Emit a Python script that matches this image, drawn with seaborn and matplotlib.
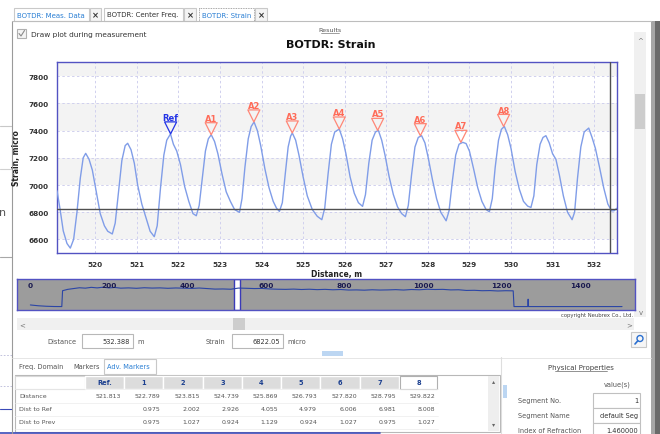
import matplotlib
matplotlib.use("Agg")
import numpy as np
import pandas as pd
import matplotlib.pyplot as plt
import seaborn as sns
from matplotlib.path import Path
from matplotlib.markers import MarkerStyle
from matplotlib.patches import Rectangle

# Strain trace (distance in m, strain in micro)
distance_m = [
    519.08, 519.15, 519.23, 519.32, 519.40, 519.48, 519.56, 519.64, 519.71, 519.77,
    519.85, 519.93, 520.02, 520.12, 520.22, 520.30, 520.41, 520.48, 520.56, 520.64,
    520.72, 520.78, 520.86, 520.94, 521.02, 521.12, 521.22, 521.32, 521.42, 521.49,
    521.57, 521.65, 521.72, 521.81, 521.88, 521.96, 522.05, 522.15, 522.25, 522.35,
    522.43, 522.50, 522.57, 522.65, 522.72, 522.79, 522.87, 522.95, 523.05, 523.15,
    523.25, 523.35, 523.47, 523.53, 523.60, 523.68, 523.75, 523.82, 523.90, 523.98,
    524.08, 524.18, 524.28, 524.36, 524.43, 524.50, 524.57, 524.64, 524.70, 524.74,
    524.82, 524.90, 525.00, 525.10, 525.22, 525.34, 525.45, 525.52, 525.60, 525.68,
    525.76, 525.87, 525.95, 526.03, 526.13, 526.23, 526.33, 526.43, 526.50, 526.58,
    526.66, 526.74, 526.81, 526.89, 526.97, 527.07, 527.17, 527.27, 527.37, 527.46,
    527.53, 527.61, 527.69, 527.77, 527.85, 527.93, 528.01, 528.11, 528.21, 528.31,
    528.44, 528.51, 528.59, 528.67, 528.75, 528.84, 528.92, 529.00, 529.10, 529.20,
    529.30, 529.40, 529.48, 529.55, 529.62, 529.70, 529.77, 529.84, 529.92, 530.00,
    530.10, 530.20, 530.30, 530.40, 530.48, 530.55, 530.62, 530.70, 530.77, 530.84,
    530.92, 531.00, 531.08, 531.16, 531.26, 531.36, 531.47, 531.53, 531.60, 531.68,
    531.76, 531.87, 531.95, 532.03, 532.13, 532.23, 532.33, 532.42, 532.48, 532.55,
]
strain_micro = [
    6958, 6830, 6663, 6570, 6536, 6600, 6800, 7050, 7200, 7233,
    7190, 7110, 6960, 6790, 6700, 6660, 6640, 6720, 6950, 7180,
    7290, 7307, 7260, 7160, 7000, 6860, 6760, 6660, 6620, 6700,
    6980, 7220, 7330, 7376, 7300, 7250, 7150, 6990, 6880, 6790,
    6774, 6850, 7040, 7250, 7340, 7370, 7320, 7230, 7080, 6950,
    6880, 6820, 6799, 6900, 7130, 7340, 7430, 7464, 7400, 7290,
    7120, 6980, 6880, 6830, 6806, 6870, 7080, 7280, 7360, 7383,
    7330, 7220, 7060, 6920, 6820, 6770, 6745, 6830, 7080, 7300,
    7390, 7412, 7340, 7230, 7060, 6940, 6870, 6843, 6930, 7160,
    7330, 7390, 7402, 7330, 7220, 7060, 6930, 6840, 6790, 6767,
    6850, 7080, 7280, 7350, 7363, 7310, 7200, 7040, 6900, 6800,
    6737, 6810, 7030, 7220, 7300, 7314, 7305, 7250, 7120, 6980,
    6880, 6820, 6803, 6900, 7130, 7330, 7410, 7431, 7370, 7270,
    7100, 6970, 6880, 6845, 6835, 6920, 7150, 7300, 7350, 7363,
    7310, 7230, 7190, 7080, 6920, 6800, 6745, 6800, 7050, 7280,
    7390, 7419, 7350, 7270, 7130, 6980, 6860, 6810, 6811, 6830,
]

# Markers (peak positions, from the Adv. Markers table)
marker_names = ["Ref", "A1", "A2", "A3", "A4", "A5", "A6", "A7", "A8"]
marker_dist = [521.813, 522.789, 523.815, 524.739, 525.869, 526.793, 527.820, 528.795, 529.822]
marker_strain = [7376, 7370, 7464, 7383, 7412, 7402, 7363, 7314, 7431]
dist_to_ref = ["", "0.975", "2.002", "2.926", "4.055", "4.979", "6.006", "6.981", "8.008"]
dist_to_prev = ["", "0.975", "1.027", "0.924", "1.129", "0.924", "1.027", "0.975", "1.027"]

cursor_distance = 532.388
cursor_strain = 6822.05

# Overview strip (whole fiber)
ov_dist = [0, 20, 40, 60, 80, 82, 95, 110, 125, 140, 155, 170, 185, 200, 215, 230,
           250, 270, 290, 310, 330, 350, 370, 390, 410, 430, 450, 470, 490, 510,
           530, 550, 570, 590, 610, 630, 650, 670, 690, 710, 730, 750, 770, 790,
           810, 830, 850, 870, 890, 910, 930, 950, 970, 990, 1010, 1030, 1050,
           1070, 1090, 1110, 1130, 1150, 1170, 1190, 1210, 1229, 1231, 1250,
           1266, 1267, 1268, 1290, 1350, 1420, 1506]
ov_strain = [1100, 800, 620, 520, 500, 6400, 6900, 7200, 7500, 7350, 7650, 7450,
             7700, 7450, 7600, 7350, 7450, 7300, 7500, 7380, 7450, 7300, 7420,
             7350, 7250, 7400, 7200, 7000, 7050, 6950, 7380, 7300, 7200, 7250,
             7050, 6950, 6900, 7000, 6850, 6950, 6800, 6900, 6750, 6850, 6650,
             6700, 6600, 6750, 6650, 6700, 6800, 6650, 6850, 6750, 6950, 6850,
             6900, 6700, 6750, 6500, 6550, 6400, 6450, 6300, 6400, 6350, 500,
             500, 500, 3250, 500, 500, 500, 500, 500]
ov_ticks = [0, 200, 400, 600, 800, 1000, 1200, 1400]

W, H = 660, 435
BLUE = "#5252c2"
CORAL = "#ff8676"
REF_BLUE = "#2233e6"


def box(x, y, w, h):
    return [x / W, 1 - (y + h) / H, w / W, h / H]


sns.set_style("white")
plt.rcParams["font.family"] = ["DejaVu Sans"]

fig = plt.figure(figsize=(6.6, 4.35), dpi=100)

# background layer in pixel coordinates for the window chrome
bg = fig.add_axes([0, 0, 1, 1], zorder=0)
bg.set_xlim(0, W)
bg.set_ylim(H, 0)
bg.axis("off")


def rect(x, y, w, h, fc, ec="none", lw=0.8, ls="-"):
    bg.add_patch(Rectangle((x, y), w, h, facecolor=fc, edgecolor=ec, lw=lw, ls=ls))


def txt(x, y, s, size=5, color="#333333", ha="left", weight="normal"):
    bg.text(x, y, s, fontsize=size, color=color, ha=ha, va="center", fontweight=weight)


# window behind, on the left
bg.plot([0, 12], [127, 127], color="#c8c8c8", lw=0.8)
bg.plot([0, 12], [170, 170], color="#d0d0d0", lw=0.8)
bg.plot([0, 12], [258, 258], color="#a8a8a8", lw=0.8)
bg.plot([0, 12], [356, 356], color="#b8b8d8", lw=0.6, ls=(0, (2, 2)))
bg.plot([0, 12], [387, 387], color="#b8b8d8", lw=0.6, ls=(0, (2, 2)))
bg.plot([0, 12], [410, 410], color="#3a4ab8", lw=0.8)
bg.plot([0, 380], [434, 434], color="#3a4ab8", lw=1.2)
txt(-1, 213, "n", size=8, color="#555555")

# window frame and shadow
bg.plot([12, 12], [22, 435], color="#9a9a9a", lw=0.8)
bg.plot([12, 651], [22, 22], color="#bdbdbd", lw=0.8)
rect(651, 22, 4, 413, "#a6a6a6")
rect(655, 22, 5, 413, "#6a6a6a")

# document tabs
rect(14, 9, 75, 13, "white", "#c9c9c9")
txt(17, 15.5, "BOTDR: Meas. Data", size=5, color="#2a7fd4")
rect(90, 9, 11, 13, "#f4f4f4", "#c9c9c9")
txt(95.5, 15.5, "×", size=6, color="#333333", ha="center", weight="bold")
rect(104, 9, 79, 13, "white", "#c9c9c9")
txt(107, 15.5, "BOTDR: Center Freq.", size=5, color="#333333")
rect(184, 9, 12, 13, "#f4f4f4", "#c9c9c9")
txt(190, 15.5, "×", size=6, color="#333333", ha="center", weight="bold")
rect(199, 9, 55, 13, "white", "#8a8a8a", lw=0.6, ls=(0, (1, 1)))
txt(202, 15.5, "BOTDR: Strain", size=5, color="#2a7fd4")
rect(255, 9, 12, 13, "#f4f4f4", "#c9c9c9")
txt(261, 15.5, "×", size=6, color="#333333", ha="center", weight="bold")

# checkbox and headings
rect(17, 30, 9, 9, "#f4f4f4", "#b0b0b0")
bg.plot([19, 21, 24.5], [34.5, 37, 31.5], color="#8a8a8a", lw=0.8)
txt(31, 34.5, "Draw plot during measurement", size=5.3, color="#333333")
txt(330, 31, "Results", size=4.6, color="#555555", ha="center")
bg.plot([321, 339], [34.3, 34.3], color="#777777", lw=0.5)
txt(331, 45, "BOTDR: Strain", size=8, color="#111111", ha="center", weight="bold")

# vertical scroll bar
rect(634, 33, 12, 285, "#f0f0f0")
rect(635, 95, 10, 35, "#cdcdcd")
txt(640, 41, "^", size=5, color="#777777", ha="center")
txt(641, 313, "v", size=5, color="#777777", ha="center")

# horizontal scroll bar
rect(17, 319, 617, 12, "#f0f0f0")
rect(233, 319, 12, 12, "#cdcdcd")
txt(22, 325, "<", size=5, color="#777777", ha="center")
txt(629, 325, ">", size=5, color="#777777", ha="center")
txt(633, 316, "copyright Neubrex Co., Ltd.", size=3.8, color="#444444", ha="right")

# cursor readout
txt(47, 342, "Distance", size=4.8, color="#555555")
rect(82, 335, 51, 14, "white", "#b8b8b8")
txt(130, 342, f"{cursor_distance:.3f}", size=4.8, color="#333333", ha="right")
txt(137, 342, "m", size=4.8, color="#555555")
txt(206, 342, "Strain", size=4.8, color="#555555")
rect(232, 335, 51, 14, "white", "#b8b8b8")
txt(280, 342, f"{cursor_strain:.2f}", size=4.8, color="#333333", ha="right")
txt(287, 342, "micro", size=4.8, color="#555555")
rect(631, 333, 15, 15, "#f6f6f6", "#c8c8c8")
bg.add_patch(plt.Circle((640, 339.5), 3, facecolor="none", edgecolor="#2a6fd0", lw=1))
bg.plot([637.8, 635], [341.8, 345], color="#2a6fd0", lw=1.2)
rect(322, 352, 21, 5, "#bcd6f2")

# lower tab strip
bg.plot([12, 651], [359, 359], color="#e2e2e2", lw=0.6)
txt(19, 367, "Freq. Domain", size=4.8, color="#555555")
txt(73, 367, "Markers", size=4.8, color="#555555")
rect(104, 360, 52, 15, "white", "#c8c8c8")
txt(107, 367, "Adv. Markers", size=4.8, color="#2a7fd4")

# marker table
col_edges = [15, 85, 124, 163, 203, 242, 281, 320, 360, 399, 438]
rect(15, 376, 485, 57, "white", "#b8b8b8")
rect(15, 377, 70, 13, "white", "#d8d8d8")
for i in range(9):
    x0, x1 = col_edges[i + 1], col_edges[i + 2]
    if i < 8:
        rect(x0, 377, x1 - x0, 13, "#dcdcdc", "white", lw=1)
    else:
        rect(x0 + 1, 377, x1 - x0 - 2, 13, "white", "#b0b0b0", lw=0.8)
    head = "Ref." if i == 0 else str(i)
    txt((x0 + x1) / 2, 383.5, head, size=4.8, color="#1b3f8f", ha="center", weight="bold")
    txt(x1 - 3, 397, f"{marker_dist[i]:.3f}", size=4.5, color="#555555", ha="right")
    txt(x1 - 3, 410, dist_to_ref[i], size=4.5, color="#555555", ha="right")
    txt(x1 - 3, 423, dist_to_prev[i], size=4.5, color="#555555", ha="right")
for yy in [390, 403.5, 416.5, 429.5]:
    bg.plot([15, 438], [yy, yy], color="#ececec", lw=0.5)
txt(19, 397, "Distance", size=4.5, color="#555555")
txt(19, 410, "Dist to Ref", size=4.5, color="#555555")
txt(19, 423, "Dist to Prev", size=4.5, color="#555555")
rect(488, 377, 11, 55, "#eeeeee")
txt(493.5, 382, "▴", size=4.5, color="#666666", ha="center")
txt(493.5, 425, "▾", size=4.5, color="#666666", ha="center")

# physical properties panel
bg.plot([501, 501], [358, 435], color="#dedede", lw=0.8)
rect(503, 386, 4, 13, "#bcd6f2")
txt(581, 368, "Physical Properties", size=5, color="#444444", ha="center")
bg.plot([555, 607], [372.2, 372.2], color="#666666", lw=0.5)
txt(617, 385, "value(s)", size=4.8, color="#555555", ha="center")
txt(518, 401, "Segment No.", size=4.8, color="#555555")
rect(593, 394, 47, 15, "white", "#c0c0c0")
txt(638, 401.5, "1", size=4.8, color="#333333", ha="right")
txt(518, 416, "Segment Name", size=4.8, color="#555555")
rect(593, 409, 47, 15, "white", "#c0c0c0")
txt(638, 416.5, "default Seg", size=4.8, color="#333333", ha="right")
txt(518, 431, "Index of Refraction", size=4.8, color="#555555")
rect(593, 424, 47, 15, "white", "#c0c0c0")
txt(638, 431, "1.460000", size=4.8, color="#333333", ha="right")

# ---- main strain chart ----
ax = fig.add_axes(box(57, 63, 560, 191), zorder=2)
trace = pd.DataFrame({"Distance": distance_m, "Strain": strain_micro})
for lo in [6600, 7000, 7400, 7800]:
    ax.axhspan(lo, lo + 200, color="#f3f3f3", zorder=0, lw=0)
sns.lineplot(data=trace, x="Distance", y="Strain", ax=ax, color="#809de8",
             lw=1.0, sort=False, estimator=None, zorder=3)
ax.axhline(cursor_strain, color="#505050", lw=1, zorder=4)
ax.axvline(cursor_distance, color="#505050", lw=1, zorder=4)

tri = MarkerStyle(Path([(-0.5, 1.0), (0.5, 1.0), (0.0, 0.0), (-0.5, 1.0)],
                       [Path.MOVETO, Path.LINETO, Path.LINETO, Path.CLOSEPOLY]))
mk = pd.DataFrame({"name": marker_names, "Distance": marker_dist, "Strain": marker_strain})
for is_ref, sub in mk.groupby(mk["name"] == "Ref"):
    col = REF_BLUE if is_ref else CORAL
    sns.scatterplot(data=sub, x="Distance", y="Strain", ax=ax, marker=tri, s=300,
                    color=col, facecolor="none", edgecolor=col, linewidth=0.9,
                    zorder=5, legend=False)
for name, x, y in zip(marker_names, marker_dist, marker_strain):
    ax.annotate(name, (x, y), xytext=(0, 10), textcoords="offset points",
                ha="center", va="baseline", fontsize=6, fontweight="bold",
                color=REF_BLUE if name == "Ref" else "#ff6b58", zorder=6)

ax.set_xlim(519.08, 532.55)
ax.set_ylim(6500, 7905)
ax.set_xticks(range(520, 533))
ax.set_yticks(range(6600, 7801, 200))
ax.grid(True, ls=(0, (2.5, 2.5)), color="#d0d0ee", lw=0.7)
ax.set_axisbelow(True)
ax.tick_params(axis="both", length=4, width=0.8, color=BLUE, labelsize=5.2,
               labelcolor="#333333", pad=2)
for lab in ax.get_xticklabels() + ax.get_yticklabels():
    lab.set_fontweight("bold")
ax.set_xlabel("Distance, m", fontsize=5.5, fontweight="bold", labelpad=1, color="#222222")
ax.set_ylabel("Strain, micro", fontsize=5.5, fontweight="bold", labelpad=5, color="#222222")
for sp in ax.spines.values():
    sp.set_color(BLUE)
    sp.set_linewidth(1)

# ---- overview strip ----
ov = fig.add_axes(box(17, 280, 618, 31), zorder=2)
ov.set_facecolor("#9c9c9c")
ov.axvspan(519.08, 532.55, facecolor="white", edgecolor="#3a3ab8", lw=1, zorder=1)
sns.lineplot(x=ov_dist, y=ov_strain, ax=ov, color="#2b45a6", lw=0.8,
             sort=False, estimator=None, zorder=3)
ov.set_xlim(-34, 1539)
ov.set_ylim(-777, 10757)
ov.set_xticks([])
ov.set_yticks([])
ov.set_xlabel("")
ov.set_ylabel("")
for t in ov_ticks:
    ov.text(t, 0.8, str(t), transform=ov.get_xaxis_transform(), ha="center", va="center",
            fontsize=5.3, fontweight="bold", color="#1a1a50", zorder=4)
for sp in ov.spines.values():
    sp.set_color(BLUE)
    sp.set_linewidth(1)

fig.savefig("out.png", dpi=100)
